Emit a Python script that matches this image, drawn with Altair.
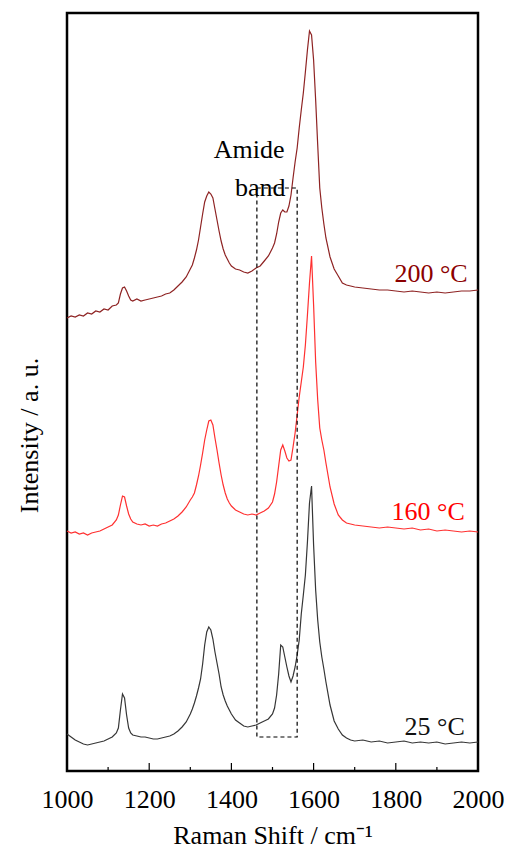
import altair as alt
import pandas as pd

# Raman shift grid (cm-1)
WAVENUMBER = (list(range(1000, 1121, 10)) + list(range(1125, 1161, 5)) +
              list(range(1170, 1301, 10)) + list(range(1305, 1401, 5)) +
              list(range(1410, 1501, 10)) + list(range(1505, 1631, 5)) +
              list(range(1640, 1701, 10)) + list(range(1720, 2001, 20)))

# offset intensities (a. u.)
I_200 = [453, 455, 454, 456, 455, 458, 457, 460, 459, 462, 461, 465, 466,
         468, 477, 483, 484, 480, 475, 471, 470,
         472, 470, 471, 472, 473, 474, 475, 477, 478, 481, 485, 489, 494, 502,
         506, 513, 521, 531, 544, 557, 569, 575, 579, 577, 573, 562, 551, 540, 530, 522, 516, 512, 508, 505,
         502, 501, 499, 498, 500, 503, 505, 510, 515, 523,
         528, 537, 549, 558, 561, 559, 559, 565, 576, 593, 609, 623, 643, 661, 678, 699, 721, 740, 736, 711, 671, 626, 583, 563, 547, 533,
         514, 502, 495, 488, 486, 485, 484,
         483, 482, 481, 481, 480, 479, 480, 479, 478, 479, 478, 479, 480, 480, 481]

I_160 = [240, 238, 239, 237, 238, 236, 238, 239, 240, 242, 244, 246, 251,
         256, 266, 275, 274, 265, 257, 252, 249,
         247, 246, 247, 245, 246, 245, 247, 248, 250, 252, 255, 259, 264, 271,
         274, 278, 286, 295, 306, 318, 331, 341, 350, 351, 346, 333, 321, 308, 296, 286, 278, 272, 268, 265,
         261, 259, 257, 256, 257, 256, 258, 260, 263, 269,
         277, 289, 305, 321, 326, 320, 313, 310, 311, 324, 338, 356, 374, 389, 404, 426, 456, 488, 515, 466, 409, 371, 343, 331, 321, 308,
         284, 267, 256, 251, 248, 247, 246,
         245, 244, 243, 244, 243, 242, 243, 241, 242, 240, 241, 240, 239, 240, 239]

I_25 = [37, 34, 31, 29, 27, 26, 27, 28, 29, 30, 32, 34, 38,
        43, 61, 77, 73, 56, 43, 38, 36,
        35, 34, 34, 33, 32, 32, 33, 34, 35, 37, 40, 44, 49, 57,
        62, 68, 75, 83, 92, 107, 126, 139, 144, 141, 132, 119, 108, 97, 84, 76, 70, 65, 61, 57,
        51, 48, 45, 44, 45, 46, 48, 50, 52, 57,
        63, 76, 97, 126, 124, 114, 104, 95, 89, 95, 104, 116, 131, 157, 176, 196, 229, 268, 285, 226, 181, 151, 129, 114, 102, 89,
        66, 50, 42, 36, 33, 31, 30,
        31, 29, 30, 28, 29, 30, 28, 29, 28, 29, 27, 28, 29, 28, 29]

SERIES = ["200 °C", "160 °C", "25 °C"]
LINE_COLORS = ["#8E2323", "#FF3030", "#363636"]
TEXT_COLORS = ["#8B0000", "#FF0000", "#111111"]

# label anchors (wavenumber, intensity)
LABEL_X = [1975, 1968, 1968]
LABEL_Y = [497, 259, 44]

# amide band box
BOX_X = [1462, 1560]
BOX_Y = [34, 583]
AMIDE_TEXT = ["Amide", "band"]
AMIDE_X = [1443, 1470]
AMIDE_Y = [621, 583]

X_LABELS = [1000, 1200, 1400, 1600, 1800, 2000]
MAJOR_TICKS = [1200, 1400, 1600, 1800]
MINOR_TICKS = [1100, 1300, 1500, 1700, 1900]

FONT = "Liberation Serif"

rows = []
for name, vals in zip(SERIES, [I_200, I_160, I_25]):
    for w, v in zip(WAVENUMBER, vals):
        rows.append({"shift": w, "intensity": v, "series": name})
df = pd.DataFrame(rows)

xscale = alt.Scale(domain=[1000, 2000], nice=False)
yscale = alt.Scale(domain=[0, 758], nice=False, zero=False)

x_enc = alt.X("shift:Q", scale=xscale,
              axis=alt.Axis(values=X_LABELS, title="Raman Shift / cm⁻¹", ticks=False,
                            domain=False, grid=False, labelFont=FONT, labelFontSize=26,
                            labelColor="black", labelPadding=15, labelFontWeight="normal",
                            labelFlush=False, labelOverlap=False,
                            titleFont=FONT, titleFontSize=26, titleFontWeight="normal",
                            titleColor="black", titleY=72, titleBaseline="alphabetic",
                            format="d"))
y_enc = alt.Y("intensity:Q", scale=yscale,
              axis=alt.Axis(title="Intensity / a. u.", labels=False, ticks=False,
                            domain=False, grid=False, titleFont=FONT, titleFontSize=26,
                            titleFontWeight="normal", titleColor="black",
                            titleX=-30, titleY=422, titleAlign="center",
                            titleBaseline="alphabetic", titleAngle=270))

lines = alt.Chart(df).mark_line(strokeWidth=1.2).encode(
    x=x_enc, y=y_enc,
    color=alt.Color("series:N", scale=alt.Scale(domain=SERIES, range=LINE_COLORS), legend=None),
    detail="series:N",
)

box_df = pd.DataFrame({"x": [BOX_X[0]], "x2": [BOX_X[1]], "y": [BOX_Y[0]], "y2": [BOX_Y[1]]})
box = alt.Chart(box_df).mark_rect(fillOpacity=0, stroke="black", strokeWidth=1.2,
                                  strokeDash=[4, 3]).encode(
    x=alt.X("x:Q", scale=xscale), x2="x2", y=alt.Y("y:Q", scale=yscale), y2="y2")

amide_df = pd.DataFrame({"t": AMIDE_TEXT, "x": AMIDE_X, "y": AMIDE_Y})
amide = alt.Chart(amide_df).mark_text(font=FONT, fontSize=26, color="black",
                                      align="center", baseline="middle").encode(
    x=alt.X("x:Q", scale=xscale), y=alt.Y("y:Q", scale=yscale), text="t:N")

lab_df = pd.DataFrame({"t": SERIES, "x": LABEL_X, "y": LABEL_Y})
labels = alt.Chart(lab_df).mark_text(font=FONT, fontSize=26, align="right",
                                     baseline="middle").encode(
    x=alt.X("x:Q", scale=xscale), y=alt.Y("y:Q", scale=yscale), text="t:N",
    color=alt.Color("t:N", scale=alt.Scale(domain=SERIES, range=TEXT_COLORS), legend=None))

major = alt.Chart(pd.DataFrame({"x": MAJOR_TICKS})).mark_rule(color="black", strokeWidth=1.2).encode(
    x=alt.X("x:Q", scale=xscale), y=alt.value(758), y2=alt.value(750))
minor = alt.Chart(pd.DataFrame({"x": MINOR_TICKS})).mark_rule(color="black", strokeWidth=1.2).encode(
    x=alt.X("x:Q", scale=xscale), y=alt.value(758), y2=alt.value(754))

chart = alt.layer(lines, box, amide, labels, major, minor).resolve_scale(color="independent").properties(
    width=411, height=758,
    autosize=alt.AutoSizeParams(type="none"),
    padding={"left": 67, "top": 13, "right": 31, "bottom": 79},
    background="white",
).configure_view(stroke="black", strokeWidth=2.5)

chart.save("out.html", embed_options={"renderer": "svg", "actions": False})
